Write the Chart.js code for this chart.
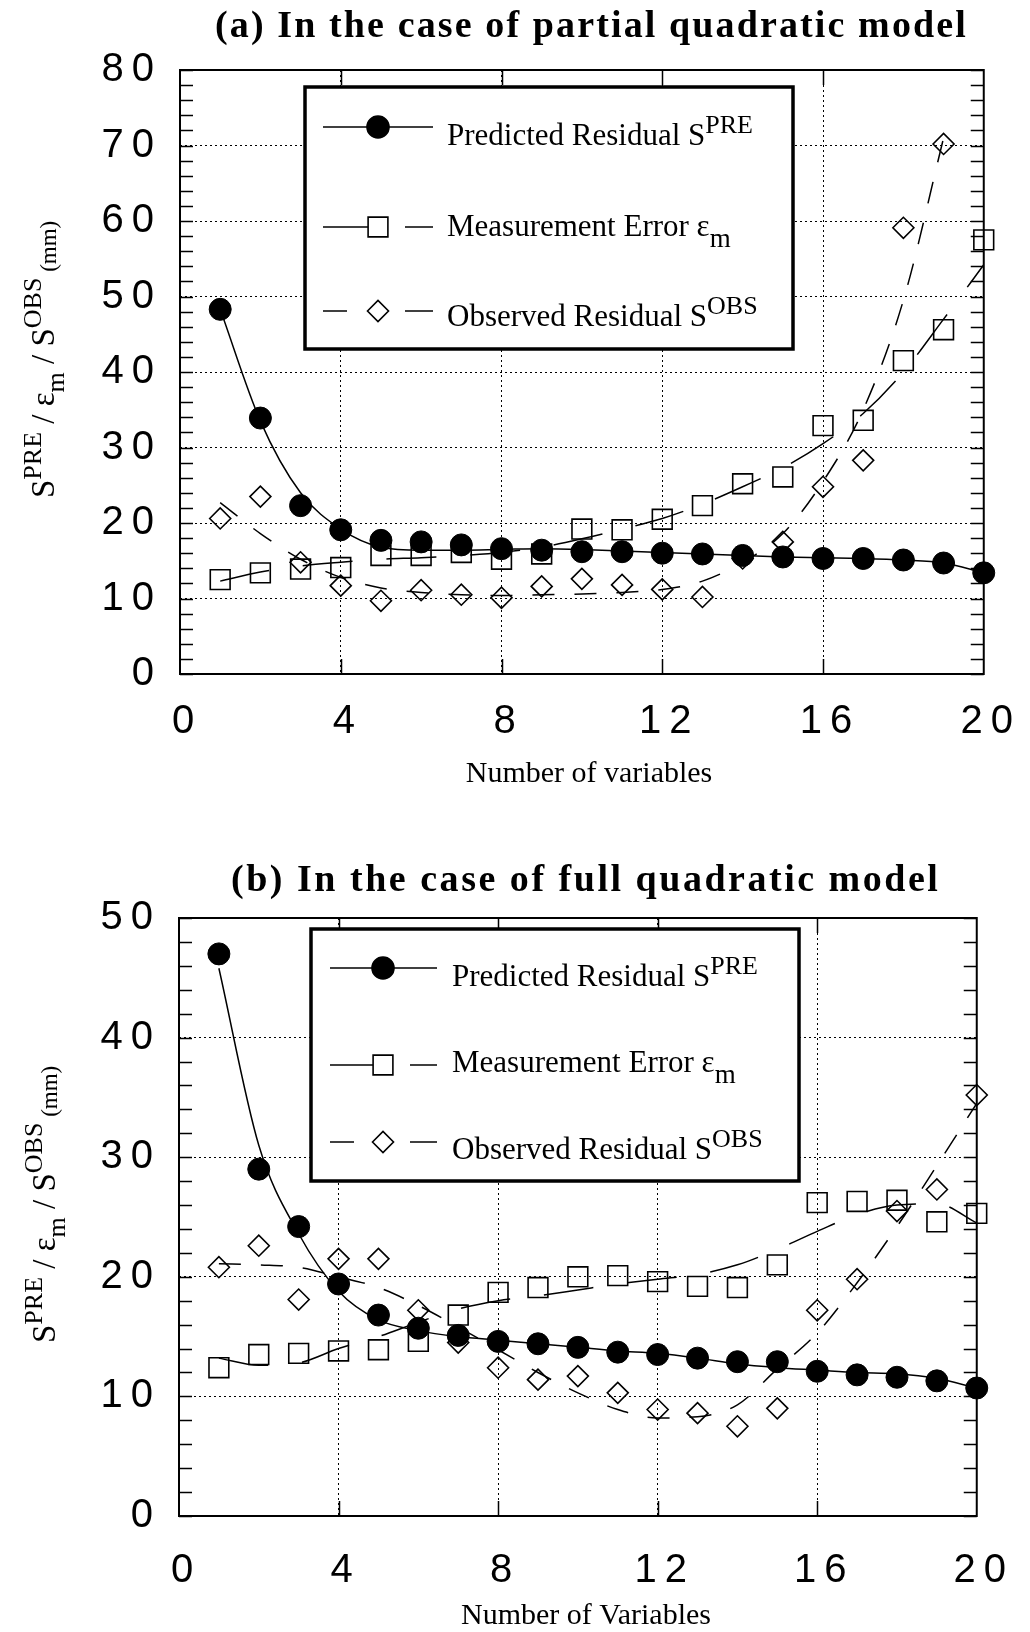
<!DOCTYPE html>
<html>
<head>
<meta charset="utf-8">
<title>Residuals vs number of variables</title>
<script src="https://cdn.jsdelivr.net/npm/chart.js@4.4.0/dist/chart.umd.min.js"></script>
<style>
  html, body { margin: 0; padding: 0; background: #fff; }
  #wrap { position: relative; width: 1030px; height: 1632px; overflow: hidden; }
  .panel { position: absolute; left: 0; width: 1030px; }
  #panel-a { top: 0; height: 800px; }
  #panel-b { top: 800px; height: 832px; }
</style>
</head>
<body>
<div id="wrap">
  <div class="panel" id="panel-a"><canvas id="chart-a" width="1030" height="800"></canvas></div>
  <div class="panel" id="panel-b"><canvas id="chart-b" width="1030" height="832"></canvas></div>
</div>
<script>
// number of variables in the model
const nVars = [1, 2, 3, 4, 5, 6, 7, 8, 9, 10, 11, 12, 13, 14, 15, 16, 17, 18, 19, 20];
const xTicks = [0, 4, 8, 12, 16, 20];
const yTicksA = [0, 10, 20, 30, 40, 50, 60, 70, 80];
const yTicksB = [0, 10, 20, 30, 40, 50];

// (a) partial quadratic model
const predA = [48.3, 33.9, 22.3, 19.1, 17.7, 17.5, 17.1, 16.6, 16.4, 16.2, 16.2, 16.0, 15.9, 15.7, 15.5, 15.3, 15.3, 15.1, 14.7, 13.4];
const measA = [12.5, 13.4, 13.9, 14.1, 15.7, 15.7, 16.1, 15.2, 15.9, 19.2, 19.1, 20.5, 22.3, 25.2, 26.1, 32.9, 33.6, 41.5, 45.6, 57.5];
const obsA  = [20.6, 23.5, 14.8, 11.7, 9.7, 11.1, 10.5, 10.1, 11.6, 12.6, 11.8, 11.2, 10.2, 15.3, 17.5, 24.8, 28.3, 59.1, 70.2, null];
// smoothed trend curves of (a)
const predFitA = [48.3, 33.5, 24.0, 19.2, 16.8, 16.4, 16.4, 16.5, 16.6, 16.5, 16.3, 16.1, 15.9, 15.7, 15.5, 15.4, 15.3, 15.1, 14.7, 13.4];
const measFitA = [12.3, 13.5, 14.3, 14.8, 15.2, 15.4, 15.7, 16.1, 16.8, 17.9, 19.2, 20.6, 22.5, 24.8, 27.3, 30.5, 34.5, 40.0, 47.0, 54.2];
const obsFitA  = [22.7, 18.6, 15.2, 12.8, 11.4, 10.8, 10.5, 10.4, 10.5, 10.6, 10.8, 11.2, 12.3, 14.8, 18.6, 25.5, 35.0, 49.5, 71.0, null];

// (b) full quadratic model
const predB = [47.0, 29.0, 24.2, 19.4, 16.8, 15.7, 15.1, 14.6, 14.4, 14.1, 13.7, 13.5, 13.2, 12.9, 12.9, 12.1, 11.8, 11.6, 11.3, 10.7];
const measB = [12.4, 13.5, 13.6, 13.8, 13.9, 14.6, 16.8, 18.7, 19.1, 20.0, 20.1, 19.6, 19.2, 19.1, 21.0, 26.2, 26.3, 26.4, 24.6, 25.3];
const obsB  = [20.8, 22.6, 18.1, 21.5, 21.5, 17.2, 14.5, 12.4, 11.4, 11.7, 10.3, 8.9, 8.6, 7.5, 9.0, 17.2, 19.8, 25.5, 27.3, 35.2];
// smoothed trend curves of (b)
const predFitB = [45.8, 31.0, 23.6, 18.8, 16.4, 15.5, 15.0, 14.7, 14.4, 14.1, 13.8, 13.6, 13.2, 12.7, 12.4, 12.2, 12.0, 11.9, 11.5, 10.7];
const measFitB = [13.2, 12.6, 12.8, 14.0, 15.0, 16.2, 17.3, 18.0, 18.4, 18.9, 19.4, 19.8, 20.2, 21.0, 22.3, 23.8, 25.2, 26.0, 26.1, 24.5];
const obsFitB  = [21.1, 21.0, 20.8, 20.0, 19.1, 17.6, 15.8, 13.9, 12.0, 10.3, 8.9, 8.2, 8.3, 9.3, 12.3, 15.3, 19.5, 24.2, 29.3, 34.5];

const SERIF = '"Liberation Serif", "Times New Roman", serif';
const SANS = '"Liberation Sans", Arial, sans-serif';

const MARK = {
  pred: { pointStyle: 'circle', radius: 11, fill: '#000' },
  meas: { pointStyle: 'rect', radius: 14, fill: 'rgba(0,0,0,0)' },
  obs:  { pointStyle: 'rectRot', radius: 10.5, fill: 'rgba(0,0,0,0)' }
};
const DASH = { pred: [], meas: [50, 34], obs: [22, 20] };

function pts(ys) {
  return nVars.map((x, i) => ({ x: x, y: ys[i] }));
}

// draw a run of text pieces, some raised (superscript) or lowered (subscript)
function drawRuns(ctx, runs, x, y) {
  let cx = x;
  for (const r of runs) {
    ctx.font = r.size + 'px ' + SERIF;
    ctx.fillText(r.t, cx, y - (r.dy || 0));
    cx += ctx.measureText(r.t).width;
  }
}

function spreadText(ctx, text, x0, x1, y) {
  ctx.letterSpacing = '0px';
  const w = ctx.measureText(text).width;
  const ls = (x1 - x0 - w) / (text.length - 1);
  ctx.letterSpacing = ls.toFixed(2) + 'px';
  ctx.fillText(text, x0, y);
  ctx.letterSpacing = '0px';
}

function marker(ctx, m, x, y) {
  ctx.fillStyle = m.fill;
  ctx.strokeStyle = '#000';
  ctx.lineWidth = 1.6;
  Chart.helpers.drawPoint(ctx, { pointStyle: m.pointStyle, radius: m.radius, rotation: 0, borderWidth: 1.6 }, x, y);
}

function seg(ctx, x0, x1, y) {
  ctx.beginPath();
  ctx.moveTo(x0, y);
  ctx.lineTo(x1, y);
  ctx.stroke();
}

const panelDecor = {
  id: 'panelDecor',
  beforeDraw(chart) {
    // wide-set digits on the tick labels
    chart.ctx.letterSpacing = '8px';
  },
  afterDraw(chart, args, o) {
    const ctx = chart.ctx;
    const { left, right, top, bottom } = chart.chartArea;
    const xs = chart.scales.x, ys = chart.scales.y;
    ctx.save();
    ctx.letterSpacing = '0px';
    ctx.strokeStyle = '#000';
    ctx.fillStyle = '#000';
    ctx.setLineDash([]);

    // inward ticks: every 2 units on y, every 4 on x
    ctx.lineWidth = 1.5;
    ctx.beginPath();
    for (let v = ys.min; v <= ys.max; v += 2) {
      const py = Math.round(ys.getPixelForValue(v)) + 0.5;
      ctx.moveTo(left, py); ctx.lineTo(left + 13, py);
      ctx.moveTo(right, py); ctx.lineTo(right - 13, py);
    }
    for (let v = xs.min + 4; v < xs.max; v += 4) {
      const px = Math.round(xs.getPixelForValue(v)) + 0.5;
      ctx.moveTo(px, top); ctx.lineTo(px, top + 15);
      ctx.moveTo(px, bottom); ctx.lineTo(px, bottom - 15);
    }
    ctx.stroke();

    // plot frame
    ctx.lineWidth = 2;
    ctx.strokeRect(left, top, right - left, bottom - top);

    // legend box
    const L = o.legend;
    ctx.fillStyle = '#fff';
    ctx.fillRect(L.x0, L.y0, L.x1 - L.x0, L.y1 - L.y0);
    ctx.lineWidth = 3.5;
    ctx.strokeRect(L.x0, L.y0, L.x1 - L.x0, L.y1 - L.y0);

    ctx.lineWidth = 1.5;
    ctx.strokeStyle = '#000';
    const mx = L.mx, s0 = L.s0, s1 = L.s1;
    // predicted: solid line through a filled dot
    seg(ctx, s0, s1, L.rows[0]);
    marker(ctx, MARK.pred, mx, L.rows[0]);
    // measurement: solid lead-in, then a dash
    ctx.lineWidth = 1.5;
    seg(ctx, s0, mx - 10, L.rows[1]);
    seg(ctx, mx + 27, s1, L.rows[1]);
    marker(ctx, MARK.meas, mx, L.rows[1]);
    // observed: dash, diamond, dash
    ctx.lineWidth = 1.5;
    seg(ctx, s0, s0 + 24, L.rows[2]);
    seg(ctx, mx + 27, s1, L.rows[2]);
    marker(ctx, MARK.obs, mx, L.rows[2]);

    ctx.fillStyle = '#000';
    ctx.textAlign = 'left';
    ctx.textBaseline = 'alphabetic';
    drawRuns(ctx, [{ t: 'Predicted Residual S', size: 31 }, { t: 'PRE', size: 26, dy: 12 }], L.tx, L.base[0]);
    drawRuns(ctx, [{ t: 'Measurement Error \u03b5', size: 31 }, { t: 'm', size: 27, dy: -11 }], L.tx, L.base[1]);
    drawRuns(ctx, [{ t: 'Observed Residual S', size: 31 }, { t: 'OBS', size: 26, dy: 12 }], L.tx, L.base[2]);

    // panel title
    ctx.font = 'bold 38px ' + SERIF;
    spreadText(ctx, o.title, o.titleX0, o.titleX1, o.titleY);

    // x axis title
    ctx.font = '30px ' + SERIF;
    ctx.textAlign = 'center';
    ctx.fillText(o.xTitle, o.xTitleX, o.xTitleY);

    // y axis title, read bottom to top
    ctx.textAlign = 'left';
    ctx.translate(o.yTitleX, o.yTitleY);
    ctx.rotate(-Math.PI / 2);
    drawRuns(ctx, [
      { t: 'S', size: 33 }, { t: 'PRE', size: 26, dy: 13 },
      { t: ' / ', size: 33 }, { t: '\u03b5', size: 33 }, { t: 'm', size: 26, dy: -10 },
      { t: ' / ', size: 33 }, { t: 'S', size: 33 }, { t: 'OBS', size: 26, dy: 13 },
      { t: ' (mm)', size: 23, dy: -2 }
    ], 0, 0);
    ctx.restore();
  }
};

function makePanel(canvasId, series, yMax, yTicks, box, decor) {
  const canvasH = document.getElementById(canvasId).height;
  return new Chart(document.getElementById(canvasId).getContext('2d'), {
    type: 'line',
    data: {
      datasets: [
        { label: 'Predicted Residual', data: pts(series.pred), showLine: false, clip: false,
          pointStyle: MARK.pred.pointStyle, pointRadius: MARK.pred.radius,
          pointBackgroundColor: MARK.pred.fill, pointBorderColor: '#000', pointBorderWidth: 1 },
        { label: 'Measurement Error', data: pts(series.meas), showLine: false, clip: false,
          pointStyle: MARK.meas.pointStyle, pointRadius: MARK.meas.radius,
          pointBackgroundColor: MARK.meas.fill, pointBorderColor: '#000', pointBorderWidth: 1.6 },
        { label: 'Observed Residual', data: pts(series.obs), showLine: false, clip: false,
          pointStyle: MARK.obs.pointStyle, pointRadius: MARK.obs.radius,
          pointBackgroundColor: MARK.obs.fill, pointBorderColor: '#000', pointBorderWidth: 1.6 },
        { label: 'Predicted trend', data: pts(series.predFit), pointRadius: 0, borderColor: '#000',
          borderWidth: 1.5, borderDash: DASH.pred, cubicInterpolationMode: 'monotone', fill: false },
        { label: 'Measurement trend', data: pts(series.measFit), pointRadius: 0, borderColor: '#000',
          borderWidth: 1.5, borderDash: DASH.meas, cubicInterpolationMode: 'monotone', fill: false },
        { label: 'Observed trend', data: pts(series.obsFit), pointRadius: 0, borderColor: '#000',
          borderWidth: 1.5, borderDash: DASH.obs, cubicInterpolationMode: 'monotone', fill: false }
      ]
    },
    options: {
      responsive: false,
      animation: false,
      devicePixelRatio: 1,
      layout: { padding: { left: 0, top: box.top, right: 1030 - box.right, bottom: 0 } },
      plugins: {
        legend: { display: false },
        tooltip: { enabled: false },
        panelDecor: decor
      },
      scales: {
        x: {
          type: 'linear', min: xTicks[0], max: xTicks[xTicks.length - 1],
          afterBuildTicks: (scale) => { scale.ticks = xTicks.map(v => ({ value: v })); },
          afterFit: (scale) => { scale.height = canvasH - box.bottom; },
          grid: { color: '#000', lineWidth: 1, drawTicks: false },
          border: { display: false, dash: [2, 3] },
          ticks: { color: '#000', padding: box.xPad, labelOffset: 7, font: { family: SANS, size: 40 } }
        },
        y: {
          min: 0, max: yMax,
          afterBuildTicks: (scale) => { scale.ticks = yTicks.map(v => ({ value: v })); },
          afterFit: (scale) => { scale.width = box.left; },
          grid: { color: '#000', lineWidth: 1, drawTicks: false },
          border: { display: false, dash: [2, 3] },
          ticks: { color: '#000', padding: 18, font: { family: SANS, size: 40 } }
        }
      }
    },
    plugins: [panelDecor]
  });
}

makePanel('chart-a',
  { pred: predA, meas: measA, obs: obsA, predFit: predFitA, measFit: measFitA, obsFit: obsFitA },
  80, yTicksA,
  { left: 180, right: 997, top: 70, bottom: 674, xPad: 24 },
  {
    title: '(a) In the case of partial quadratic model', titleX0: 215, titleX1: 966, titleY: 37,
    xTitle: 'Number of variables', xTitleX: 589, xTitleY: 782,
    yTitleX: 54, yTitleY: 498,
    legend: { x0: 305, x1: 793, y0: 87, y1: 349, s0: 323, s1: 433, mx: 378,
              rows: [127, 227, 311], base: [145, 236, 326], tx: 447 }
  });

makePanel('chart-b',
  { pred: predB, meas: measB, obs: obsB, predFit: predFitB, measFit: measFitB, obsFit: obsFitB },
  50, yTicksB,
  { left: 179, right: 994, top: 118, bottom: 716, xPad: 31 },
  {
    title: '(b) In the case of full quadratic model', titleX0: 231, titleX1: 938, titleY: 91,
    xTitle: 'Number of Variables', xTitleX: 586, xTitleY: 824,
    yTitleX: 55, yTitleY: 543,
    legend: { x0: 311, x1: 799, y0: 129, y1: 381, s0: 330, s1: 437, mx: 383,
              rows: [168, 265, 342], base: [186, 272, 359], tx: 452 }
  });
</script>
</body>
</html>
